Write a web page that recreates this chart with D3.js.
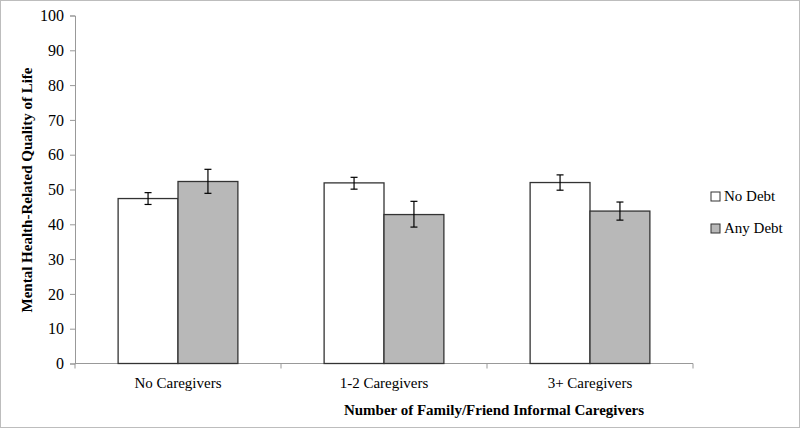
<!DOCTYPE html>
<html><head><meta charset="utf-8">
<script src="https://cdn.jsdelivr.net/npm/d3@7"></script>
<style>body{margin:0;background:#fff}svg{display:block}</style>
</head><body><div id="chart"></div>
<script>
const categories = ["No Caregivers", "1-2 Caregivers", "3+ Caregivers"];
const seriesNames = ["No Debt", "Any Debt"];
const noDebt = [47.4, 51.9, 52.0];
const noDebtLo = [45.7, 50.1, 49.8];
const noDebtHi = [49.1, 53.5, 54.2];
const anyDebt = [52.3, 42.8, 43.8];
const anyDebtLo = [48.9, 39.2, 41.2];
const anyDebtHi = [55.8, 46.6, 46.4];
const yTicks = [0,10,20,30,40,50,60,70,80,90,100];
const colors = ["#ffffff", "#b8b8b8"];

const W = 800, H = 428;
const font = "Liberation Serif";
const svg = d3.select("#chart").append("svg").attr("width", W).attr("height", H)
  .attr("font-family", font);
svg.append("rect").attr("x",0.5).attr("y",0.5).attr("width",W-1).attr("height",H-1)
  .attr("fill","#fff").attr("stroke","#bdbdbd");

const x0 = d3.scaleBand().domain(categories).range([75, 693]).paddingInner(0).paddingOuter(0);
const x1 = d3.scaleBand().domain(seriesNames).range([0, x0.bandwidth()]).paddingInner(0).paddingOuter(0.72);
const y = d3.scaleLinear().domain([0,100]).range([363.5, 15.5]);

// y axis
const ya = svg.append("g").attr("transform","translate(75,0)")
  .call(d3.axisLeft(y).tickValues(yTicks).tickSize(5).tickPadding(6));
ya.attr("font-family", font);
ya.select(".domain").attr("stroke","#999");
ya.selectAll(".tick line").attr("stroke","#999");
ya.selectAll("text").attr("font-family",font).attr("font-size",16).attr("fill","#000");

// x axis
const xa = svg.append("g").attr("transform","translate(0,363.5)");
xa.append("line").attr("x1",75).attr("x2",693).attr("stroke","#999");
const bounds = [x0.range()[0]].concat(categories.map(c=>x0(c)+x0.bandwidth()));
xa.selectAll("line.tk").data(bounds).join("line").attr("class","tk")
  .attr("x1",d=>d).attr("x2",d=>d).attr("y1",0).attr("y2",5).attr("stroke","#999");
xa.selectAll("text").data(categories).join("text")
  .attr("x",d=>x0(d)+x0.bandwidth()/2).attr("y",24)
  .attr("text-anchor","middle").attr("font-family",font).attr("font-size",15).text(d=>d);

// bars
const series = [
  {name: seriesNames[0], v: noDebt, lo: noDebtLo, hi: noDebtHi, c: colors[0]},
  {name: seriesNames[1], v: anyDebt, lo: anyDebtLo, hi: anyDebtHi, c: colors[1]}
];
series.forEach(s=>{
  const g = svg.append("g");
  g.selectAll("rect").data(categories).join("rect")
    .attr("x",(d)=>x0(d)+x1(s.name)).attr("width",x1.bandwidth())
    .attr("y",(d,i)=>y(s.v[i])).attr("height",(d,i)=>y(0)-y(s.v[i]))
    .attr("fill",s.c).attr("stroke","#333").attr("stroke-width",1.3);
  categories.forEach((d,i)=>{
    const cx = x0(d)+x1(s.name)+x1.bandwidth()/2;
    g.append("line").attr("x1",cx).attr("x2",cx).attr("y1",y(s.lo[i])).attr("y2",y(s.hi[i])).attr("stroke","#000").attr("stroke-width",1.2);
    [s.lo[i], s.hi[i]].forEach(v=>g.append("line").attr("x1",cx-3.5).attr("x2",cx+3.5).attr("y1",y(v)).attr("y2",y(v)).attr("stroke","#000").attr("stroke-width",1.2));
  });
});

// legend
series.forEach((s,i)=>{
  const ly = 201 + i*32;
  svg.append("rect").attr("x",711).attr("y",ly-9).attr("width",9).attr("height",9)
    .attr("fill",s.c).attr("stroke","#333").attr("stroke-width",1);
  svg.append("text").attr("x",724).attr("y",ly).attr("font-family",font).attr("font-size",15).text(s.name);
});

// axis titles
svg.append("text").attr("transform","translate(32,190) rotate(-90)").attr("text-anchor","middle")
  .attr("font-family",font).attr("font-size",15).attr("font-weight","bold").text("Mental Health-Related Quality of Life");
svg.append("text").attr("x",494).attr("y",415).attr("text-anchor","middle")
  .attr("font-family",font).attr("font-size",15).attr("font-weight","bold").text("Number of Family/Friend Informal Caregivers");
</script></body></html>
